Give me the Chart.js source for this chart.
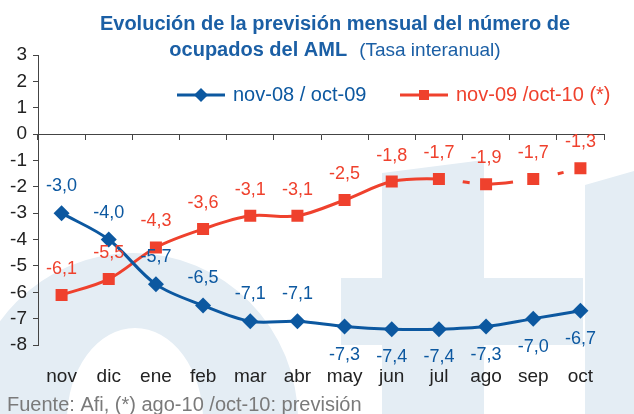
<!DOCTYPE html>
<html><head><meta charset="utf-8">
<script src="https://cdn.jsdelivr.net/npm/chart.js@4.4.0/dist/chart.umd.min.js"></script>
<style>html,body{margin:0;padding:0;background:#fff;} #wrap{width:634px;height:414px;position:relative;}</style>
</head><body><div id="wrap"><canvas id="c" width="634" height="414"></canvas></div>
<script>
const categories = ['nov','dic','ene','feb','mar','abr','may','jun','jul','ago','sep','oct'];
const serie0809 = [-3.0,-4.0,-5.7,-6.5,-7.1,-7.1,-7.3,-7.4,-7.4,-7.3,-7.0,-6.7];
const serie0910 = [-6.1,-5.5,-4.3,-3.6,-3.1,-3.1,-2.5,-1.8,-1.7,-1.9,-1.7,-1.3];
const seriesNames = ['nov-08 / oct-09','nov-09 /oct-10 (*)'];
const yTicks = [3,2,1,0,-1,-2,-3,-4,-5,-6,-7,-8];
const titleLine1 = 'Evolución de la previsión mensual del número de';
const titleLine2Bold = 'ocupados del AML';
const titleLine2Normal = '(Tasa interanual)';
const sourceNote = 'Fuente: Afi, (*) ago-10 /oct-10: previsión';

const FONT = '"Liberation Sans", Arial, Helvetica, sans-serif';
const BLUE = '#0c58a0';
const RED = '#ef412d';
const TITLE = '#1b5fa5';
const AXIS = '#444444';
const WM = '#e4edf4';

function fmt(v){ return v.toFixed(1).replace('.', ','); }

function forecastDash(i){
  if (i === 8) return [0, 24, 7, 200];
  if (i === 9) return [27, 200];
  if (i === 10) return [0, 25, 6, 200];
  return undefined;
}

const watermark = {
  id: 'watermark',
  beforeDraw(chart){
    const ctx = chart.ctx;
    ctx.save();
    ctx.fillStyle = '#ffffff';
    ctx.fillRect(0,0,chart.width,chart.height);
    ctx.fillStyle = WM;
    ctx.beginPath();
    ctx.ellipse(133, 420, 165, 167, 0, Math.PI, 2*Math.PI);
    ctx.lineTo(203, 420);
    ctx.ellipse(135, 420, 68, 92, 0, 0, Math.PI, true);
    ctx.closePath();
    ctx.fill();
    ctx.beginPath();
    ctx.moveTo(382,173); ctx.lineTo(484,160); ctx.lineTo(484,414); ctx.lineTo(382,414); ctx.closePath();
    ctx.fill();
    ctx.fillRect(341, 278, 242, 67);
    ctx.beginPath();
    ctx.moveTo(585,185); ctx.lineTo(634,171); ctx.lineTo(634,414); ctx.lineTo(585,414); ctx.closePath();
    ctx.fill();
    ctx.restore();
  }
};

const decorations = {
  id: 'decorations',
  afterDraw(chart){
    const ctx = chart.ctx;
    ctx.save();
    // title
    ctx.fillStyle = TITLE;
    ctx.textBaseline = 'alphabetic';
    ctx.textAlign = 'center';
    ctx.font = 'bold 20px ' + FONT;
    ctx.fillText(titleLine1, 335, 30);
    ctx.textAlign = 'left';
    const wB = ctx.measureText(titleLine2Bold).width;
    ctx.font = '19px ' + FONT;
    const gap = 12;
    const wN = ctx.measureText(titleLine2Normal).width;
    const x0 = 335 - (wB + gap + wN)/2;
    ctx.font = 'bold 20px ' + FONT;
    ctx.fillText(titleLine2Bold, x0, 56);
    ctx.font = '19px ' + FONT;
    ctx.fillText(titleLine2Normal, x0 + wB + gap, 56);

    // legend
    const ly = 95;
    ctx.lineWidth = 3;
    ctx.strokeStyle = BLUE; ctx.fillStyle = BLUE;
    ctx.beginPath(); ctx.moveTo(177, ly); ctx.lineTo(225, ly); ctx.stroke();
    ctx.beginPath(); ctx.moveTo(201, ly-7); ctx.lineTo(208, ly); ctx.lineTo(201, ly+7); ctx.lineTo(194, ly); ctx.closePath(); ctx.fill();
    ctx.font = '20px ' + FONT; ctx.textBaseline = 'middle'; ctx.textAlign = 'left';
    ctx.fillText(seriesNames[0], 233, ly);
    ctx.strokeStyle = RED; ctx.fillStyle = RED;
    ctx.beginPath(); ctx.moveTo(400, ly); ctx.lineTo(448, ly); ctx.stroke();
    ctx.fillRect(419, ly-5, 10, 10);
    ctx.fillText(seriesNames[1], 456, ly);

    // data labels
    ctx.font = '18px ' + FONT;
    ctx.textAlign = 'center';
    ctx.textBaseline = 'middle';
    chart.data.datasets.forEach((ds, di) => {
      const meta = chart.getDatasetMeta(di);
      ctx.fillStyle = ds.borderColor;
      meta.data.forEach((pt, i) => {
        const v = ds.data[i];
        let dy;
        if (di === 0) dy = (i <= 5) ? -27 : 28;
        else dy = -26;
        ctx.fillText(fmt(v), pt.x, pt.y + dy);
      });
    });

    // source
    ctx.fillStyle = '#7a7a7a';
    ctx.font = '20px ' + FONT;
    ctx.textAlign = 'left';
    ctx.textBaseline = 'middle';
    ctx.fillText(sourceNote, 7, 405);
    ctx.restore();
  }
};

new Chart(document.getElementById('c'), {
  type: 'line',
  data: {
    labels: categories,
    datasets: [
      {
        label: seriesNames[0], data: serie0809,
        borderColor: BLUE, backgroundColor: BLUE, borderWidth: 3,
        pointStyle: 'rectRot', pointRadius: 8, pointBorderWidth: 0,
        pointBackgroundColor: BLUE, tension: 0.33
      },
      {
        label: seriesNames[1], data: serie0910,
        borderColor: RED, backgroundColor: RED, borderWidth: 3,
        pointStyle: 'rect', pointRadius: 8.5, pointBorderWidth: 0,
        pointBackgroundColor: RED, tension: 0.33, borderCapStyle: 'butt',
        segment: { borderDash: ctx => forecastDash(ctx.p0DataIndex) }
      }
    ]
  },
  options: {
    responsive: false, animation: false, devicePixelRatio: 1,
    layout: { padding: { top: 55, right: 30, left: 0, bottom: 0 } },
    plugins: { legend: { display: false }, title: { display: false }, tooltip: { enabled: false } },
    scales: {
      x: {
        type: 'category', offset: true,
        grid: { display: false }, border: { display: false },
        ticks: { color: '#222', font: { size: 19, family: FONT }, padding: 12, maxRotation: 0, autoSkip: false },
        afterFit(s){ s.height = 69; }
      },
      x0: {
        type: 'category', axis: 'x', position: { y: 0 }, offset: true,
        grid: { offset: true, drawOnChartArea: false, drawTicks: true, tickLength: 5, color: AXIS, lineWidth: 1 },
        border: { display: true, color: AXIS, width: 1 },
        ticks: { display: false }
      },
      y: {
        min: Math.min(...yTicks), max: Math.max(...yTicks),
        afterBuildTicks(s){ s.ticks = yTicks.map(v => ({ value: v })); },
        afterFit(s){ s.width = 38; },
        grid: { drawOnChartArea: false, tickLength: 5, color: AXIS },
        border: { display: true, color: AXIS, width: 1 },
        ticks: { color: '#222', font: { size: 19, family: FONT }, padding: 6 }
      }
    }
  },
  plugins: [watermark, decorations]
});
</script>
</body></html>
